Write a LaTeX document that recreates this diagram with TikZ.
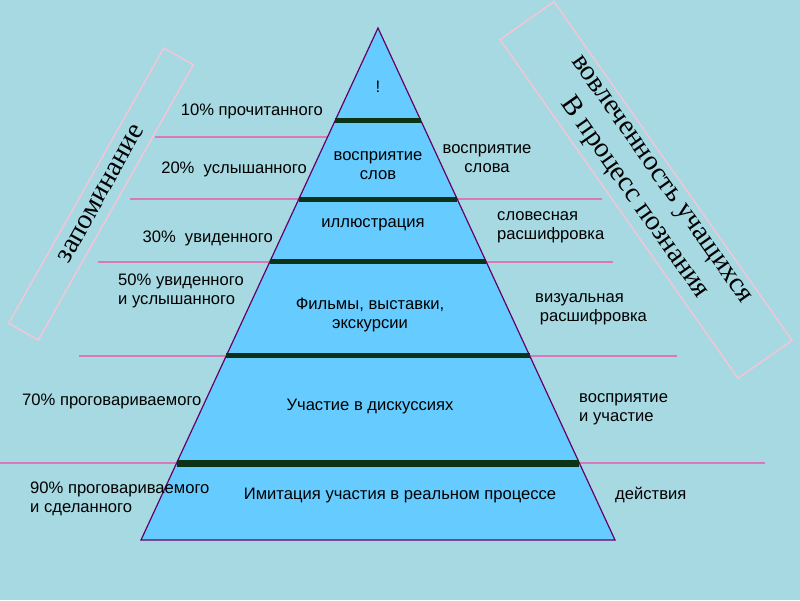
\documentclass[tikz,border=0pt]{standalone}
\usepackage{fontspec}
\setmainfont{Liberation Sans}
\newfontfamily\tms{Liberation Serif}
\usetikzlibrary{calc}
\definecolor{bgc}{HTML}{A6D9E2}
\definecolor{trif}{HTML}{66CCFF}
\definecolor{trio}{HTML}{660066}
\definecolor{barc}{HTML}{0B3316}
\definecolor{pinkl}{HTML}{DD77BB}
\definecolor{boxc}{HTML}{F2C6DA}
\begin{document}
\begin{tikzpicture}[x=1pt,y=-1pt,
  lbl/.style={font=\fontsize{16.6}{19}\selectfont, inner sep=0pt, align=left},
  clbl/.style={font=\fontsize{16.6}{19}\selectfont, inner sep=0pt, align=center},
  barline/.style={draw=barc, line width=5pt},
  pline/.style={draw=pinkl, line width=1.2pt},
  rbox/.style={draw=boxc, line width=1.5pt, font=\tms\fontsize{28}{33}\selectfont, align=center, inner sep=0pt}]
\useasboundingbox (0,0) rectangle (800,600);
\fill[bgc] (0,0) rectangle (800,600);
% triangle corners
\coordinate (apex) at (378,28);
\coordinate (bl) at (141,540);
\coordinate (br) at (615,540);
% pink lines
\coordinate (p1a) at (155,137); \coordinate (p1b) at (330,137);
\coordinate (p2a) at (130,199); \coordinate (p2b) at (602,199);
\coordinate (p3a) at (98,262);  \coordinate (p3b) at (613,262);
\coordinate (p4a) at (79,356);  \coordinate (p4b) at (677,356);
\coordinate (p5a) at (0,463);   \coordinate (p5b) at (765,463);
\draw[pline] (p1a) -- (p1b);
\draw[pline] (p2a) -- (p2b);
\draw[pline] (p3a) -- (p3b);
\draw[pline] (p4a) -- (p4b);
\draw[pline] (p5a) -- (p5b);
% triangle
\draw[fill=trif, draw=trio, line width=1.2pt] (apex) -- (bl) -- (br) -- cycle;
% bars
\draw[barline] ($(apex)!0.1797!(bl)$) -- ($(apex)!0.1797!(br)$);
\draw[barline] ($(apex)!0.334!(bl)$) -- ($(apex)!0.334!(br)$);
\draw[barline] ($(apex)!0.457!(bl)$) -- ($(apex)!0.457!(br)$);
\draw[barline] ($(apex)!0.6406!(bl)$) -- ($(apex)!0.6406!(br)$);
\draw[barline, line width=7pt] ($(apex)!0.8496!(bl)$) -- ($(apex)!0.8496!(br)$);
% texts inside triangle
\node[clbl] (t1) at (378,87) {!};
\node[clbl] (t2) at (378,166) {восприятие\\слов};
\node[clbl] (t3) at (373,225) {иллюстрация};
\node[clbl] (t4) at (370,315) {Фильмы, выставки,\\экскурсии};
\node[clbl] (t5) at (370,407) {Участие в дискуссиях};
\node[clbl] (t6) at (400,496) {Имитация участия в реальном процессе};
% left labels
\node[lbl, anchor=east] (l1) at (323,111) {10\% прочитанного};
\node[lbl, anchor=east] (l2) at (307,169) {20\%\ \ услышанного};
\node[lbl, anchor=east] (l3) at (273,238) {30\%\ \ увиденного};
\node[lbl, anchor=west] (l4) at (118,290.5) {50\% увиденного\\и услышанного};
\node[lbl, anchor=west] (l5) at (22,401) {70\% проговариваемого};
\node[lbl, anchor=west] (l6) at (30,499) {90\% проговариваемого\\и сделанного};
% right labels
\node[clbl] (r1) at (487,159) {восприятие\\слова};
\node[lbl, anchor=west] (r2) at (497,227.5) {словесная\\расшифровка};
\node[lbl, anchor=west] (r3) at (535,309.5) {визуальная\\\ расшифровка};
\node[lbl, anchor=west] (r4) at (579,409) {восприятие\\и участие};
\node[lbl, anchor=west] (r5) at (615,495) {действия};
% rotated boxes
\node[rbox, rotate=60.6, minimum width=316pt, minimum height=34pt] (bx1) at (101,194) {запоминание};
\node[rbox, rotate=-54.9, minimum width=414pt, minimum height=66pt] (bx2) at (646,190) {вовлеченность учащихся\\В процесс познания};
\end{tikzpicture}
\end{document}
